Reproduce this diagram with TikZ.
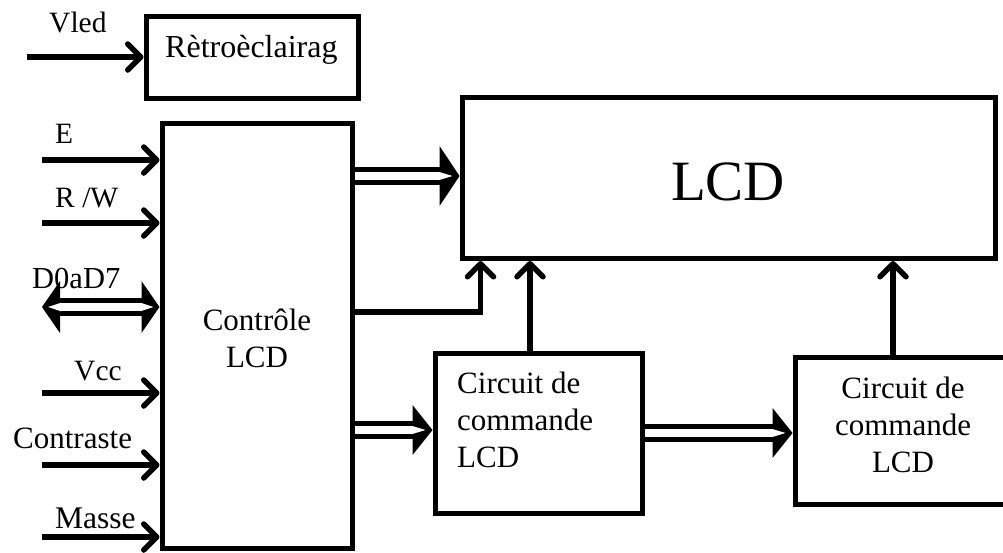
\documentclass[tikz,border=0pt]{standalone}
\usepackage{fontspec}
\setmainfont{Liberation Serif}
\usetikzlibrary{arrows.meta,calc}
\begin{document}
\begin{tikzpicture}[x=1pt,y=-1pt,
  box/.style={draw, line width=5pt, rectangle, inner sep=0pt},
  sig/.style={line width=5.5pt, -{Straight Barb[length=13pt,width=26pt,round]}},
  busline/.style={double, double distance=8.5pt, line width=5pt},
  lbl/.style={inner sep=0pt, anchor=base west},
  btxt/.style={font=\fontsize{31}{37}\selectfont, inner sep=0pt}]
\useasboundingbox (0,0) rectangle (1003,552);
% boxes
\node[box, minimum width=212pt, minimum height=82pt] (retro) at (252,57) {};
\node[box, minimum width=190pt, minimum height=425pt] (ctrl) at (257,335.5) {};
\node[box, minimum width=533pt, minimum height=161pt] (lcd) at (728.5,178) {};
\node[box, minimum width=207pt, minimum height=160pt] (c1) at (538.5,433) {};
\node[box, minimum width=211pt, minimum height=147pt] (c2) at (900.5,430.5) {};
% box texts
\node[btxt, anchor=base west, font=\fontsize{32}{37}\selectfont] (retrot) at (165,57) {Rètroèclairag};
\node[btxt, anchor=north, align=center] (ctrlt) at (257,309) {Contrôle\\LCD};
\node[font=\fontsize{57}{60}\selectfont, inner sep=0pt, anchor=base] (lcdt) at (728,200) {LCD};
\node[btxt, anchor=north west, align=left] (c1t) at (457,372) {Circuit de\\commande\\LCD};
\node[btxt, anchor=north, align=center] (c2t) at (903,377) {Circuit de\\commande\\LCD};
% input labels
\node[lbl, font=\fontsize{29.5}{32}\selectfont] (lvled) at (49,32) {Vled};
\node[lbl, font=\fontsize{29.5}{32}\selectfont] (le) at (55,143) {E};
\node[lbl, font=\fontsize{29.5}{32}\selectfont] (lrw) at (55,207) {R /W};
\node[lbl, font=\fontsize{30.5}{32}\selectfont] (ld) at (32,288) {D0aD7};
\node[lbl, font=\fontsize{29.5}{32}\selectfont] (lvcc) at (74,380) {Vcc};
\node[lbl, font=\fontsize{31}{32}\selectfont] (lcon) at (13,448) {Contraste};
\node[lbl, font=\fontsize{31.5}{32}\selectfont] (lmas) at (55,528) {Masse};
% free ends
\coordinate (ivled) at (27,57);
\coordinate (ie) at (42,160);
\coordinate (irw) at (42,223);
\coordinate (id) at (42,307);
\coordinate (ivcc) at (42,393);
\coordinate (icon) at (42,465);
\coordinate (imas) at (42,537);
% input arrows
\draw[sig] (ivled) -- (retro.west);
\draw[sig] (ie) -- (ie -| ctrl.west);
\draw[sig] (irw) -- (irw -| ctrl.west);
\draw[sig] (ivcc) -- (ivcc -| ctrl.west);
\draw[sig] (icon) -- (icon -| ctrl.west);
\draw[sig] (imas) -- (imas -| ctrl.west);
% D0aD7 bidirectional bus
\coordinate (ide) at (id -| ctrl.west);
\draw[busline, shorten <=16pt, shorten >=16pt] (id) -- (ide);
\fill[black] (id) -- ($(id)+(18pt,26pt)$) -- ($(id)+(18pt,-26pt)$) -- cycle;
\fill[white] ($(id)+(19pt,4.25pt)$) -- ($(id)+(6pt,0pt)$) -- ($(id)+(19pt,-4.25pt)$) -- cycle;
\fill[black] (ide) -- ($(ide)+(-18pt,26pt)$) -- ($(ide)+(-18pt,-26pt)$) -- cycle;
\fill[white] ($(ide)+(-19pt,4.25pt)$) -- ($(ide)+(-6pt,0pt)$) -- ($(ide)+(-19pt,-4.25pt)$) -- cycle;
% bus to LCD
\coordinate (b1s) at ([yshift=159.5pt]ctrl.east);
\coordinate (b1e) at (b1s -| lcd.west);
\draw[busline, shorten >=19pt] (b1s) -- (b1e);
\fill[black] (b1e) -- ($(b1e)+(-20pt,30pt)$) -- ($(b1e)+(-20pt,-30pt)$) -- cycle;
\fill[white] ($(b1e)+(-21pt,4.25pt)$) -- ($(b1e)+(-7pt,0pt)$) -- ($(b1e)+(-21pt,-4.25pt)$) -- cycle;
% bus to first driver
\coordinate (b2s) at ([yshift=-94.5pt]ctrl.east);
\coordinate (b2e) at (b2s -| c1.west);
\draw[busline, shorten >=19pt] (b2s) -- (b2e);
\fill[black] (b2e) -- ($(b2e)+(-20pt,25pt)$) -- ($(b2e)+(-20pt,-25pt)$) -- cycle;
\fill[white] ($(b2e)+(-21pt,4.25pt)$) -- ($(b2e)+(-7pt,0pt)$) -- ($(b2e)+(-21pt,-4.25pt)$) -- cycle;
% bus to second driver
\coordinate (b3s) at (c1.east);
\coordinate (b3e) at (b3s -| c2.west);
\draw[busline, shorten >=19pt] (b3s) -- (b3e);
\fill[black] (b3e) -- ($(b3e)+(-20pt,25pt)$) -- ($(b3e)+(-20pt,-25pt)$) -- cycle;
\fill[white] ($(b3e)+(-21pt,4.25pt)$) -- ($(b3e)+(-7pt,0pt)$) -- ($(b3e)+(-21pt,-4.25pt)$) -- cycle;
% control lines to LCD
\draw[sig] ([yshift=23.5pt]ctrl.east) -| ([xshift=21pt]lcd.south west);
\draw[sig] ([xshift=-8.5pt]c1.north) -- ([xshift=-8.5pt]c1.north |- lcd.south);
\draw[sig] ([xshift=-7.5pt]c2.north) -- ([xshift=-7.5pt]c2.north |- lcd.south);
\end{tikzpicture}
\end{document}
